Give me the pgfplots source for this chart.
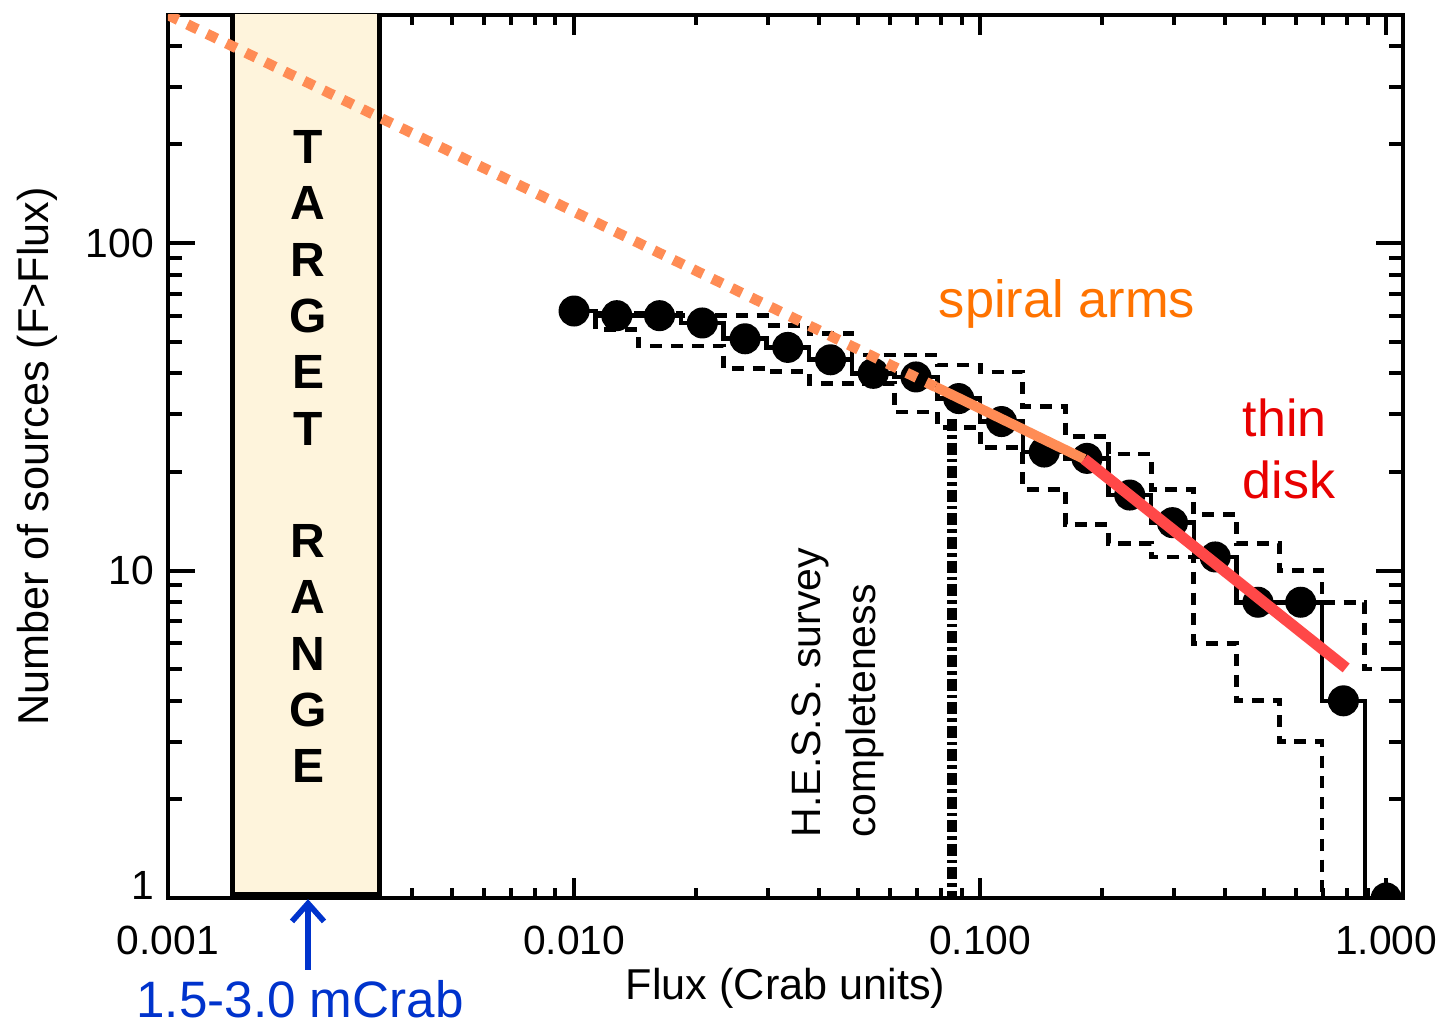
\documentclass[border=0pt]{standalone}
\usepackage{pgfplots}
\pgfplotsset{compat=1.18}
\usepackage{fontspec}
\setmainfont{Liberation Sans}
\usetikzlibrary{arrows.meta}
\definecolor{boxfill}{RGB}{254,244,220}
\definecolor{orangeline}{RGB}{255,140,85}
\definecolor{redline}{RGB}{255,72,72}
\definecolor{spiralorange}{RGB}{255,115,0}
\definecolor{diskred}{RGB}{232,0,0}
\definecolor{labelblue}{RGB}{0,51,204}
\begin{document}
\begin{tikzpicture}
\useasboundingbox (-42pt,-31.75pt) rectangle (319.25pt,224.5pt);
\begin{axis}[
  at={(0,0)}, anchor=south west,
  scale only axis, width=308.75pt, height=220.75pt,
  xmode=log, ymode=log,
  xmin=0.001, xmax=1.1, ymin=1, ymax=497,
  xtick={0.001,0.01,0.1,1}, xticklabels={0.001,0.010,0.100,1.000},
  minor xtick={0.002,0.003,0.004,0.005,0.006,0.007,0.008,0.009,0.02,0.03,0.04,0.05,0.06,0.07,0.08,0.09,0.2,0.3,0.4,0.5,0.6,0.7,0.8,0.9},
  ytick={10,100}, yticklabels={10,100},
  extra y ticks={1}, extra y tick labels={1},
  extra y tick style={yticklabel style={yshift=3.25pt}},
  minor ytick={2,3,4,5,6,7,8,9,20,30,40,50,60,70,80,90,200,300,400},
  /pgf/number format/assume math mode=true,
  axis line style={line width=1pt},
  tick style={black, line width=1pt},
  xtick style={/pgfplots/major tick length=5pt, /pgfplots/minor tick length=2.5pt},
  ytick style={/pgfplots/major tick length=6.75pt, /pgfplots/minor tick length=3.4pt},
  tick label style={font=\fontsize{10.2}{12}\selectfont},
  xticklabel style={yshift=-3.4pt},
  xlabel={Flux (Crab units)},
  ylabel={Number of sources (F>Flux)},
  label style={font=\fontsize{10.8}{13}\selectfont},
  xlabel style={at={(axis description cs:0.5,-0.102)}, anchor=center},
  ylabel style={at={(axis description cs:-0.106,0.5)}, anchor=center},
  clip=true, clip marker paths=true,
]
% target range box
\addplot[fill=boxfill, draw=black, line width=1.1pt] coordinates {(0.001442,1.025) (0.001442,512.8) (0.003318,512.8) (0.003318,1.025)} -- cycle;
% upper dashed
\addplot[black, line width=1.2pt, dash pattern=on 3pt off 2.2pt, const plot mark mid] coordinates {
(0.01,62) (0.012743,61) (0.016238,61) (0.020691,60) (0.026367,60) (0.033598,56) (0.042813,53) (0.054556,45.5) (0.069519,45.5) (0.088587,42.4) (0.112884,40.4) (0.143845,31.6) (0.183298,25.7) (0.233572,22.7) (0.297635,17.7) (0.379269,14.8) (0.483293,12.1) (0.615848,10) (0.78476,8) (1.0,5) (1.1,5)};
% lower dashed
\addplot[black, line width=1.2pt, dash pattern=on 3pt off 2.2pt, const plot mark mid] coordinates {
(0.01,59) (0.012743,54.3) (0.016238,48.5) (0.020691,48.5) (0.026367,41.5) (0.033598,40.5) (0.042813,37.3) (0.054556,37.3) (0.069519,30.5) (0.088587,27.4) (0.112884,23.7) (0.143845,17.7) (0.183298,13.8) (0.233572,12.1) (0.297635,11) (0.379269,6) (0.483293,4) (0.615848,3) (0.78476,0.5)};
% measured histogram
\addplot[black, line width=1.15pt, const plot mark mid, mark=*, mark size=3.3pt, mark options={solid, fill=black}] coordinates {
(0.01,62) (0.012743,60) (0.016238,60) (0.020691,57) (0.026367,51) (0.033598,48) (0.042813,44) (0.054556,40) (0.069519,39) (0.088587,33.5) (0.112884,28.5) (0.143845,23) (0.183298,22) (0.233572,17) (0.297635,14) (0.379269,11) (0.483293,8) (0.615848,8) (0.78476,4) (1.0,1)};
% HESS completeness
\addplot[black, line width=2.4pt, dash pattern=on 3pt off 1pt on 0.9pt off 1pt] coordinates {(0.0853,29) (0.0853,1)};
% spiral arms model
\addplot[orangeline, line width=2.6pt, dash pattern=on 2.8pt off 2.6pt] coordinates {(0.001,497) (0.07763,36.4)};
\addplot[orangeline, line width=2.5pt] coordinates {(0.07763,36.4) (0.1804,21.9)};
% thin disk model
\addplot[redline, line width=2.8pt] coordinates {(0.1804,21.9) (0.797,5.04)};
% texts
\node[inner sep=0pt, anchor=base west, text=spiralorange, font=\fontsize{13.1}{15}\selectfont] at (axis cs:0.0788,59.4) {spiral arms};
\node[inner sep=0pt, anchor=base west, text=diskred, font=\fontsize{13}{15}\selectfont] at (axis cs:0.4418,25.7) {thin};
\node[inner sep=0pt, anchor=base west, text=diskred, font=\fontsize{13}{15}\selectfont] at (axis cs:0.4418,16.6) {disk};
\node[inner sep=0pt, rotate=90, anchor=base west, font=\fontsize{10.25}{12}\selectfont] at (axis cs:0.04036,1.525) {H.E.S.S. survey};
\node[inner sep=0pt, rotate=90, anchor=base west, font=\fontsize{10.25}{12}\selectfont] at (axis cs:0.05513,1.525) {completeness};
\node[font=\bfseries\fontsize{12}{14}\selectfont] at (axis description cs:0.1134,0.8505) {T};
\node[font=\bfseries\fontsize{12}{14}\selectfont] at (axis description cs:0.1134,0.7867) {A};
\node[font=\bfseries\fontsize{12}{14}\selectfont] at (axis description cs:0.1134,0.7230) {R};
\node[font=\bfseries\fontsize{12}{14}\selectfont] at (axis description cs:0.1134,0.6592) {G};
\node[font=\bfseries\fontsize{12}{14}\selectfont] at (axis description cs:0.1134,0.5955) {E};
\node[font=\bfseries\fontsize{12}{14}\selectfont] at (axis description cs:0.1134,0.5317) {T};
\node[font=\bfseries\fontsize{12}{14}\selectfont] at (axis description cs:0.1134,0.4042) {R};
\node[font=\bfseries\fontsize{12}{14}\selectfont] at (axis description cs:0.1134,0.3404) {A};
\node[font=\bfseries\fontsize{12}{14}\selectfont] at (axis description cs:0.1134,0.2767) {N};
\node[font=\bfseries\fontsize{12}{14}\selectfont] at (axis description cs:0.1134,0.2129) {G};
\node[font=\bfseries\fontsize{12}{14}\selectfont] at (axis description cs:0.1134,0.1492) {E};
\end{axis}
\draw[labelblue, line width=1.4pt, -{Straight Barb[length=4.5pt,width=8pt]}] (35pt,-18pt) -- (35pt,-0.3pt);
\node[text=labelblue, anchor=base, font=\fontsize{12.8}{15}\selectfont] at (33pt,-30pt) {1.5-3.0 mCrab};
\end{tikzpicture}
\end{document}
